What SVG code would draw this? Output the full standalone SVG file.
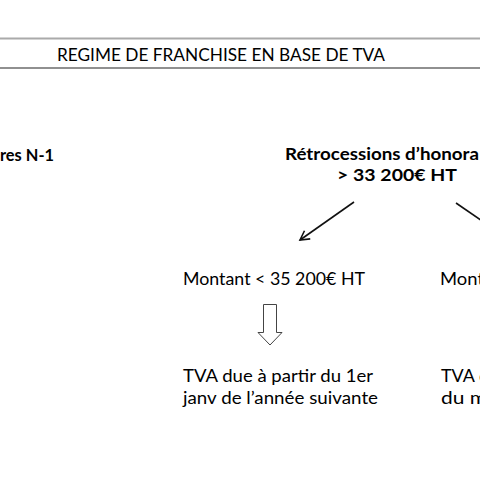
<svg xmlns="http://www.w3.org/2000/svg" width="480" height="480" viewBox="0 0 480 480">
<style>
text{font-family:Lato,"Open Sans","Liberation Sans",sans-serif;font-size:18px;fill:#000}
.b{font-weight:bold;font-size:17px}
.c{stroke:#111;stroke-width:1.6;fill:none}
</style>
<defs>
<marker id="ah" markerWidth="12" markerHeight="12" refX="10" refY="6" orient="auto" markerUnits="userSpaceOnUse">
<path d="M1,1 L10,6 L1,11" fill="none" stroke="#111" stroke-width="1.6"/>
</marker>
</defs>
<rect width="480" height="480" fill="#fff"/>
<g id="header">
<line x1="0" y1="38.5" x2="480" y2="38.5" stroke="#aaa" stroke-width="2"/>
<line x1="0" y1="68" x2="480" y2="68" stroke="#222" stroke-width="1.2"/>
<text x="57" y="61" textLength="328" lengthAdjust="spacingAndGlyphs">REGIME DE FRANCHISE EN BASE DE TVA</text>
</g>
<g id="n1"><text class="b" x="0" y="161" textLength="54" lengthAdjust="spacingAndGlyphs">res N-1</text></g>
<g id="n2">
<text class="b" x="285" y="160" textLength="194" lengthAdjust="spacingAndGlyphs">Rétrocessions d’honora</text>
<text class="b" x="337" y="181" textLength="120" lengthAdjust="spacingAndGlyphs">&gt; 33 200€ HT</text>
</g>
<g id="n3"><text x="183" y="285" textLength="182" lengthAdjust="spacingAndGlyphs">Montant &lt; 35 200€ HT</text></g>
<g id="n4"><text x="440" y="285" textLength="44" lengthAdjust="spacingAndGlyphs">Mont</text></g>
<g id="n5">
<text x="183" y="382" textLength="190" lengthAdjust="spacingAndGlyphs">TVA due à partir du 1er</text>
<text x="183" y="404" textLength="195" lengthAdjust="spacingAndGlyphs">janv de l’année suivante</text>
</g>
<g id="n6">
<text x="441" y="382" textLength="48" lengthAdjust="spacingAndGlyphs">TVA d</text>
<text x="441" y="404" textLength="46" lengthAdjust="spacingAndGlyphs">du m</text>
</g>
<g id="connectors">
<line class="c" x1="354" y1="202" x2="300" y2="240" marker-end="url(#ah)"/>
<line class="c" x1="456" y1="203" x2="510" y2="240"/>
<path d="M263.5,304.5 H276.5 V332.5 H282 L270,345 L258,332.5 H263.5 Z" fill="#fff" stroke="#444" stroke-width="1"/>
</g>
</svg>
